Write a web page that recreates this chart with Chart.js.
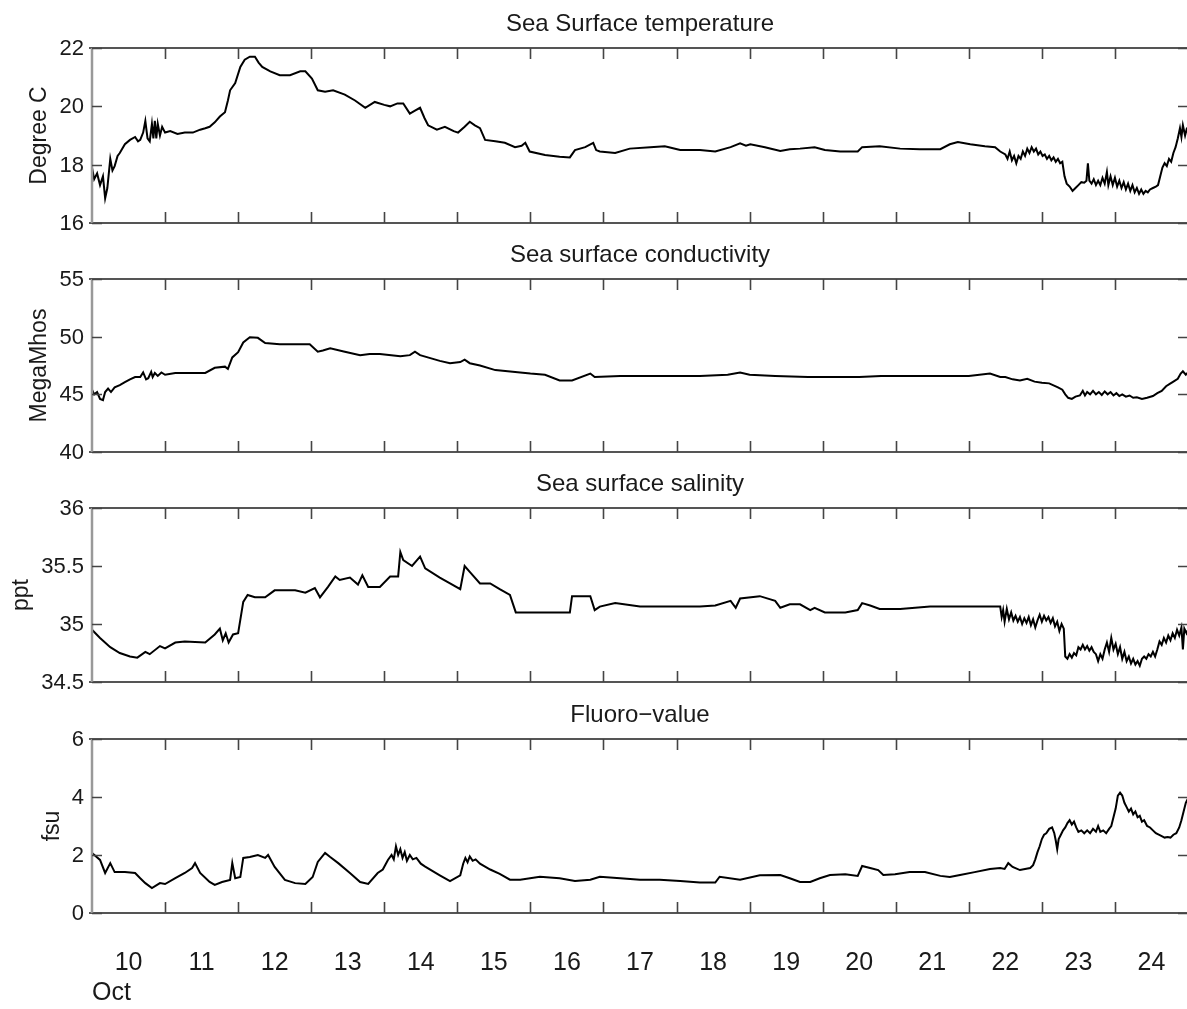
<!DOCTYPE html>
<html>
<head>
<meta charset="utf-8">
<script src="https://cdn.jsdelivr.net/npm/chart.js@4.4.1/dist/chart.umd.min.js"></script>
<style>
  html, body { margin: 0; padding: 0; background: #fff; overflow: hidden; }
  #wrap { position: relative; width: 1187px; height: 1009px; overflow: hidden; }
  canvas { position: absolute; left: 0; }
</style>
</head>
<body>
<div id="wrap">
  <canvas id="tempChart"></canvas>
  <canvas id="condChart"></canvas>
  <canvas id="salChart"></canvas>
  <canvas id="fluoroChart"></canvas>
</div>
<script>
// ---- ship underway record, day of October ----
const tempDays = [9.50,9.53,9.57,9.61,9.65,9.68,9.71,9.75,9.78,9.81,9.85,9.88,9.95,10.02,10.09,10.13,10.16,10.20,10.23,10.26,10.29,10.32,10.34,10.36,10.38,10.40,10.43,10.46,10.50,10.57,10.67,10.77,10.88,10.98,11.05,11.11,11.18,11.25,11.32,11.36,11.39,11.46,11.53,11.59,11.66,11.73,11.78,11.83,11.94,12.07,12.21,12.35,12.42,12.51,12.59,12.69,12.80,12.96,13.10,13.24,13.37,13.50,13.58,13.68,13.76,13.85,13.92,13.99,14.05,14.10,14.22,14.33,14.45,14.51,14.60,14.67,14.74,14.81,14.88,15.02,15.15,15.29,15.38,15.43,15.49,15.70,15.90,16.04,16.11,16.25,16.36,16.40,16.45,16.66,16.86,17.14,17.34,17.55,17.82,18.03,18.24,18.37,18.45,18.51,18.71,18.92,19.05,19.19,19.39,19.53,19.74,19.98,20.04,20.28,20.56,20.83,21.11,21.24,21.35,21.52,21.72,21.86,21.93,
  22.00,22.03,22.06,22.09,22.12,22.15,22.18,22.21,22.24,22.27,22.30,22.33,22.36,22.39,22.42,22.45,22.48,22.51,22.54,22.57,22.60,22.63,22.66,22.69,22.72,22.75,22.78,22.81,22.84,22.88,22.92,22.96,23.00,23.04,23.08,23.11,23.13,23.15,23.18,23.21,23.24,23.27,23.30,23.33,23.36,23.39,23.41,23.44,23.47,23.50,23.53,23.56,23.59,23.62,23.65,23.68,23.71,23.74,23.77,23.80,23.83,23.86,23.89,23.92,23.95,23.98,24.02,24.06,24.09,24.12,24.15,24.18,24.21,24.24,24.27,24.30,24.33,24.36,24.39,24.41,24.43,24.46,24.48,24.50];
const tempValues = [17.9,17.5,17.7,17.3,17.6,16.85,17.2,18.2,17.8,17.95,18.3,18.4,18.7,18.85,18.95,18.8,18.85,19.1,19.5,18.9,18.8,19.4,18.9,19.5,18.9,19.4,19.0,19.3,19.1,19.15,19.05,19.1,19.1,19.2,19.25,19.3,19.45,19.65,19.8,20.2,20.55,20.8,21.35,21.6,21.7,21.7,21.5,21.35,21.2,21.07,21.07,21.2,21.2,20.95,20.55,20.5,20.55,20.4,20.2,19.95,20.15,20.05,20.0,20.1,20.1,19.75,19.85,19.95,19.6,19.35,19.2,19.3,19.15,19.1,19.3,19.47,19.35,19.25,18.85,18.8,18.75,18.6,18.65,18.75,18.45,18.33,18.27,18.25,18.5,18.6,18.75,18.5,18.45,18.4,18.55,18.6,18.63,18.5,18.5,18.45,18.6,18.73,18.65,18.7,18.6,18.47,18.53,18.55,18.6,18.5,18.45,18.45,18.6,18.63,18.55,18.53,18.53,18.7,18.78,18.7,18.63,18.6,18.45,
  18.35,18.2,18.45,18.15,18.3,18.05,18.3,18.2,18.45,18.3,18.55,18.4,18.6,18.45,18.55,18.35,18.45,18.3,18.35,18.2,18.3,18.15,18.25,18.1,18.2,18.05,18.1,17.6,17.35,17.25,17.1,17.2,17.3,17.4,17.38,17.45,18.05,17.45,17.35,17.5,17.3,17.45,17.3,17.55,17.35,17.75,17.3,17.6,17.3,17.55,17.25,17.45,17.2,17.4,17.15,17.35,17.1,17.3,17.05,17.2,17.0,17.15,17.0,17.1,17.05,17.15,17.2,17.25,17.3,17.6,17.9,18.05,17.95,18.2,18.1,18.4,18.6,18.9,19.25,18.95,19.35,19.0,19.2,19.1];

const condDays = [9.50,9.53,9.57,9.61,9.65,9.68,9.72,9.76,9.81,9.88,9.95,10.02,10.09,10.16,10.20,10.24,10.27,10.31,10.33,10.36,10.40,10.45,10.50,10.64,10.77,10.91,11.05,11.18,11.32,11.36,11.42,11.50,11.57,11.66,11.77,11.87,12.07,12.28,12.48,12.59,12.66,12.76,12.96,13.17,13.30,13.44,13.72,13.85,13.92,13.99,14.26,14.40,14.54,14.60,14.67,14.81,15.02,15.36,15.50,15.70,15.90,16.07,16.32,16.38,16.73,17.27,17.82,18.20,18.37,18.50,18.85,19.30,20.00,20.30,20.90,21.50,21.79,21.93,
  22.00,22.10,22.20,22.30,22.40,22.50,22.60,22.72,22.78,22.82,22.86,22.91,22.96,23.02,23.06,23.09,23.12,23.16,23.20,23.24,23.28,23.32,23.36,23.40,23.44,23.48,23.52,23.56,23.60,23.65,23.70,23.75,23.80,23.87,23.94,24.02,24.08,24.14,24.20,24.25,24.30,24.36,24.40,24.43,24.47,24.50];
const condValues = [45.4,45.0,45.2,44.6,44.5,45.2,45.5,45.2,45.6,45.8,46.05,46.3,46.5,46.5,46.9,46.3,46.4,46.95,46.5,46.85,46.6,46.9,46.7,46.85,46.85,46.85,46.85,47.3,47.4,47.2,48.2,48.65,49.5,49.95,49.9,49.45,49.35,49.35,49.35,48.7,48.8,49.0,48.7,48.4,48.5,48.5,48.3,48.4,48.7,48.4,47.9,47.7,47.8,48.0,47.7,47.5,47.1,46.9,46.8,46.7,46.2,46.2,46.8,46.5,46.6,46.6,46.6,46.7,46.9,46.7,46.6,46.5,46.5,46.6,46.6,46.6,46.8,46.5,
  46.5,46.3,46.2,46.35,46.1,46.0,45.95,45.6,45.4,45.0,44.7,44.6,44.8,44.9,45.3,44.9,45.2,45.0,45.3,45.0,45.2,44.95,45.25,45.0,45.2,44.9,45.1,44.85,45.0,44.8,44.9,44.7,44.75,44.6,44.7,44.85,45.1,45.3,45.7,45.9,46.1,46.35,46.8,47.0,46.7,46.9];

const salDays = [9.50,9.61,9.75,9.88,10.02,10.12,10.23,10.29,10.43,10.50,10.64,10.77,11.05,11.18,11.25,11.29,11.33,11.37,11.43,11.50,11.57,11.63,11.73,11.87,12.00,12.28,12.42,12.55,12.62,12.73,12.83,12.89,13.03,13.14,13.20,13.28,13.44,13.58,13.69,13.72,13.76,13.88,13.99,14.06,14.26,14.40,14.54,14.60,14.67,14.81,14.95,15.08,15.22,15.30,15.63,16.04,16.07,16.32,16.38,16.45,16.66,17.00,17.82,18.03,18.24,18.31,18.37,18.64,18.85,18.92,19.05,19.19,19.33,19.39,19.53,19.81,19.98,20.04,20.15,20.28,20.56,20.97,21.38,21.79,21.93,
  21.95,21.97,21.99,22.02,22.05,22.08,22.11,22.14,22.17,22.20,22.23,22.26,22.29,22.32,22.35,22.38,22.41,22.44,22.47,22.50,22.53,22.56,22.59,22.62,22.65,22.68,22.71,22.74,22.77,22.80,22.82,22.85,22.88,22.91,22.94,22.97,23.00,23.03,23.06,23.09,23.12,23.15,23.18,23.21,23.24,23.27,23.30,23.33,23.36,23.39,23.42,23.45,23.48,23.51,23.54,23.57,23.60,23.63,23.66,23.69,23.72,23.75,23.78,23.81,23.84,23.87,23.90,23.93,23.96,23.99,24.02,24.05,24.08,24.11,24.14,24.17,24.20,24.23,24.26,24.29,24.32,24.35,24.38,24.41,24.43,24.45,24.48,24.50];
const salValues = [34.95,34.88,34.8,34.75,34.72,34.71,34.76,34.74,34.81,34.79,34.84,34.85,34.84,34.91,34.96,34.86,34.92,34.84,34.91,34.92,35.19,35.25,35.23,35.23,35.29,35.29,35.27,35.31,35.23,35.32,35.41,35.38,35.4,35.34,35.42,35.32,35.32,35.41,35.41,35.62,35.55,35.5,35.58,35.48,35.4,35.35,35.3,35.5,35.45,35.35,35.35,35.3,35.25,35.1,35.1,35.1,35.24,35.24,35.12,35.15,35.18,35.15,35.15,35.16,35.2,35.14,35.22,35.24,35.2,35.14,35.17,35.17,35.12,35.14,35.1,35.1,35.12,35.18,35.16,35.13,35.13,35.15,35.15,35.15,35.15,
  35.06,35.12,35.02,35.13,35.04,35.1,35.03,35.07,35.02,35.06,35.0,35.05,35.01,35.06,34.99,35.04,34.97,35.03,35.08,35.02,35.07,35.03,35.06,35.01,35.05,34.98,35.02,34.94,35.0,34.96,34.72,34.7,34.74,34.71,34.75,34.73,34.8,34.78,34.82,34.78,34.81,34.77,34.8,34.76,34.74,34.68,34.74,34.7,34.78,34.84,34.76,34.88,34.78,34.83,34.74,34.8,34.7,34.76,34.68,34.72,34.66,34.7,34.65,34.68,34.64,34.7,34.72,34.7,34.74,34.72,34.76,34.72,34.78,34.85,34.82,34.88,34.84,34.9,34.86,34.92,34.88,34.95,34.9,34.97,34.78,34.96,34.92,34.95];

const fluoroDays = [9.50,9.61,9.68,9.75,9.81,9.95,10.09,10.16,10.23,10.32,10.43,10.50,10.64,10.77,10.87,10.91,10.98,11.11,11.18,11.28,11.39,11.42,11.46,11.53,11.57,11.66,11.77,11.87,11.91,12.00,12.14,12.28,12.42,12.52,12.59,12.69,12.76,12.87,13.03,13.17,13.28,13.41,13.48,13.55,13.60,13.63,13.66,13.69,13.72,13.75,13.78,13.81,13.85,13.89,13.94,14.00,14.06,14.26,14.40,14.54,14.58,14.61,14.64,14.67,14.71,14.75,14.81,14.95,15.08,15.22,15.36,15.63,15.90,16.11,16.32,16.45,16.73,17.00,17.27,17.55,17.82,18.03,18.09,18.37,18.64,18.92,19.05,19.19,19.33,19.46,19.60,19.81,19.98,20.04,20.15,20.26,20.33,20.49,20.69,20.90,21.11,21.24,21.38,21.58,21.79,21.93,21.99,22.04,22.10,22.20,22.34,
  22.38,22.41,22.44,22.47,22.50,22.53,22.56,22.60,22.64,22.67,22.69,22.71,22.73,22.76,22.79,22.82,22.85,22.88,22.91,22.94,22.97,23.00,23.04,23.08,23.12,23.16,23.20,23.24,23.27,23.30,23.34,23.38,23.42,23.45,23.48,23.51,23.54,23.57,23.60,23.63,23.66,23.69,23.72,23.75,23.78,23.81,23.84,23.87,23.90,23.94,23.98,24.02,24.06,24.10,24.14,24.18,24.22,24.26,24.30,24.34,24.38,24.41,24.44,24.47,24.50];
const fluoroValues = [2.07,1.83,1.38,1.72,1.41,1.41,1.38,1.2,1.03,0.86,1.03,1.0,1.2,1.38,1.55,1.72,1.38,1.07,0.97,1.07,1.14,1.72,1.2,1.24,1.9,1.93,2.0,1.9,2.0,1.59,1.14,1.03,1.0,1.24,1.76,2.07,1.93,1.72,1.38,1.07,1.0,1.38,1.5,1.83,2.0,1.85,2.3,2.0,2.2,1.9,2.1,1.8,2.0,1.85,1.9,1.7,1.6,1.3,1.1,1.3,1.7,1.9,1.75,1.95,1.8,1.85,1.7,1.5,1.35,1.15,1.15,1.25,1.2,1.1,1.15,1.25,1.2,1.15,1.15,1.1,1.05,1.05,1.25,1.15,1.3,1.31,1.2,1.07,1.07,1.2,1.31,1.34,1.28,1.62,1.55,1.48,1.31,1.34,1.41,1.41,1.28,1.24,1.31,1.41,1.52,1.55,1.52,1.72,1.59,1.48,1.55,
  1.65,1.85,2.1,2.3,2.55,2.7,2.75,2.9,2.95,2.75,2.5,2.2,2.55,2.7,2.85,2.95,3.1,3.2,3.05,3.15,2.95,2.8,2.85,2.75,2.85,2.75,2.9,2.8,3.0,2.8,2.85,2.75,2.9,3.0,3.3,3.6,4.05,4.15,4.05,3.8,3.65,3.5,3.6,3.4,3.5,3.3,3.35,3.15,3.2,3.0,2.95,2.85,2.75,2.7,2.65,2.6,2.62,2.6,2.7,2.75,2.95,3.2,3.5,3.8,3.95];

// axis ticks
const dayLabels = [10,11,12,13,14,15,16,17,18,19,20,21,22,23,24];
const dayBoundaries = [10.5,11.5,12.5,13.5,14.5,15.5,16.5,17.5,18.5,19.5,20.5,21.5,22.5,23.5];
const tempTicks = [16,18,20,22];
const condTicks = [40,45,50,55];
const salTicks = [34.5,35,35.5,36];
const fluoroTicks = [0,2,4,6];

const FONT = '"Liberation Sans", Arial, Helvetica, sans-serif';
const INK = '#1a1a1a';

// draws the boxed axes, inward ticks, title and labels around each panel
function boxAxes(cfg) {
  return {
    id: 'boxAxes',
    afterDatasetsDraw(chart) {
      const { ctx, chartArea: a, scales: { x, y } } = chart;
      ctx.save();

      // box: top and bottom dark, left spine lighter
      ctx.strokeStyle = '#555';
      ctx.lineWidth = 2;
      ctx.beginPath();
      ctx.moveTo(a.left - 3, a.top); ctx.lineTo(a.right, a.top);
      ctx.moveTo(a.left - 3, a.bottom); ctx.lineTo(a.right, a.bottom);
      ctx.stroke();
      ctx.strokeStyle = '#999';
      ctx.lineWidth = 2.5;
      ctx.beginPath();
      ctx.moveTo(a.left, a.top); ctx.lineTo(a.left, a.bottom);
      ctx.stroke();

      // x tick marks at day boundaries, top and bottom
      ctx.strokeStyle = '#444';
      ctx.lineWidth = 1.6;
      ctx.beginPath();
      dayBoundaries.forEach(d => {
        const px = Math.round(x.getPixelForValue(d)) + 0.5;
        ctx.moveTo(px, a.top); ctx.lineTo(px, a.top + 11);
        ctx.moveTo(px, a.bottom); ctx.lineTo(px, a.bottom - 11);
      });
      // y tick marks, left and right
      cfg.ticks.forEach(v => {
        const py = Math.round(y.getPixelForValue(v)) + 0.5;
        ctx.moveTo(a.left, py); ctx.lineTo(a.left + 10, py);
        ctx.moveTo(a.right, py); ctx.lineTo(a.right - 10, py);
      });
      ctx.stroke();

      // y tick labels
      ctx.fillStyle = INK;
      ctx.font = '22px ' + FONT;
      ctx.textAlign = 'right';
      ctx.textBaseline = 'middle';
      let widest = 0;
      cfg.ticks.forEach(v => {
        const s = String(v);
        widest = Math.max(widest, ctx.measureText(s).width);
        ctx.fillText(s, a.left - 8, y.getPixelForValue(v) + 1);
      });

      // y axis label
      ctx.save();
      ctx.font = '23px ' + FONT;
      ctx.textAlign = 'center';
      ctx.textBaseline = 'bottom';
      ctx.translate(a.left - 8 - widest - 8, (a.top + a.bottom) / 2);
      ctx.rotate(-Math.PI / 2);
      ctx.fillText(cfg.yLabel, 0, 0);
      ctx.restore();

      // panel title
      ctx.font = '24px ' + FONT;
      ctx.textAlign = 'center';
      ctx.textBaseline = 'alphabetic';
      ctx.fillText(cfg.title, (a.left + a.right) / 2, a.top - 17);

      // day labels under the last panel
      if (cfg.showDays) {
        ctx.font = '25px ' + FONT;
        ctx.textBaseline = 'middle';
        dayLabels.forEach(d => ctx.fillText(String(d), x.getPixelForValue(d), a.bottom + 50));
        ctx.textAlign = 'left';
        ctx.fillText('Oct', a.left, a.bottom + 80);
      }
      ctx.restore();
    }
  };
}

function makePanel(id, cfg) {
  const canvas = document.getElementById(id);
  canvas.width = 1190;
  canvas.height = cfg.height;
  canvas.style.top = cfg.top + 'px';
  return new Chart(canvas, {
    type: 'line',
    data: {
      datasets: [{
        data: cfg.days.map((d, i) => ({ x: d, y: cfg.values[i] })),
        borderColor: '#000',
        borderWidth: 2,
        pointRadius: 0,
        tension: 0,
        fill: false
      }]
    },
    options: {
      responsive: false,
      animation: false,
      devicePixelRatio: 1,
      layout: { padding: { left: 92, right: 2, top: 48, bottom: cfg.height - 48 - cfg.plotHeight } },
      plugins: { legend: { display: false }, tooltip: { enabled: false } },
      scales: {
        x: { type: 'linear', min: 9.5, max: 24.5, display: false },
        y: { min: cfg.ticks[0], max: cfg.ticks[cfg.ticks.length - 1], display: false }
      }
    },
    plugins: [boxAxes(cfg)]
  });
}

makePanel('tempChart', { top: 0, height: 230, plotHeight: 175, days: tempDays, values: tempValues, ticks: tempTicks,
  title: 'Sea Surface temperature', yLabel: 'Degree C' });
makePanel('condChart', { top: 231, height: 228, plotHeight: 173, days: condDays, values: condValues, ticks: condTicks,
  title: 'Sea surface conductivity', yLabel: 'MegaMhos' });
makePanel('salChart', { top: 460, height: 230, plotHeight: 174, days: salDays, values: salValues, ticks: salTicks,
  title: 'Sea surface salinity', yLabel: 'ppt' });
makePanel('fluoroChart', { top: 691, height: 318, plotHeight: 174, days: fluoroDays, values: fluoroValues, ticks: fluoroTicks,
  title: 'Fluoro\u2212value', yLabel: 'fsu', showDays: true });
</script>
</body>
</html>
